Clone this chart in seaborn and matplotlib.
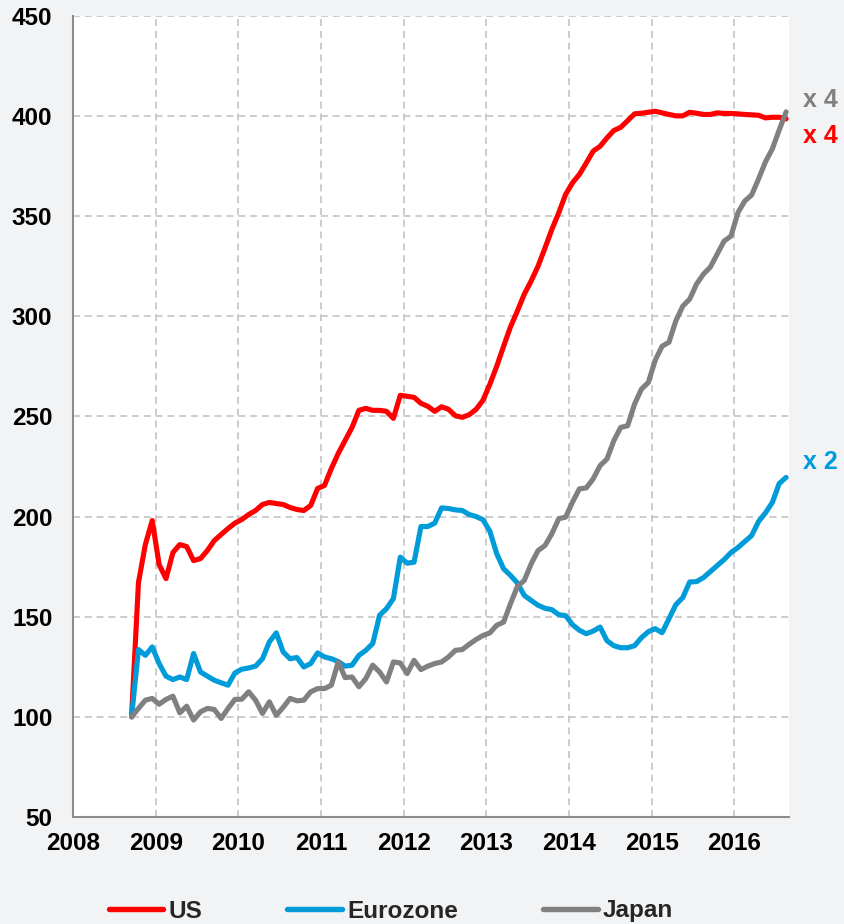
import numpy as np
import pandas as pd
import matplotlib
matplotlib.use("Agg")
import matplotlib.pyplot as plt
from matplotlib.lines import Line2D
import seaborn as sns

# ---------------- data (monthly, Sep 2008 .. Aug 2016, index 100 = Sep 2008) ----------------
start_month = "2008-09-01"
n_months = 96

us = [100, 167, 186, 198,
      176, 169, 182, 186, 185, 178, 179, 183, 188, 191, 194, 196.7,
      198.5, 201, 203, 206, 207, 206.5, 206, 204.5, 203.5, 203, 205.5, 214,
      215.5, 224, 231.5, 238, 244.5, 253, 254, 253, 253, 252.5, 249, 260.5,
      260, 259.5, 256.5, 255, 252.5, 254.8, 253.5, 250.3, 249.5, 250.8, 253.5, 258,
      266, 275, 285, 294.7, 302.6, 311, 317.6, 325, 334, 343.3, 351.6, 360.8,
      366.6, 370.8, 376.5, 382.4, 384.8, 389, 392.7, 394.3, 397.6, 401, 401.3, 401.8,
      402.3, 401.5, 400.7, 400, 400, 401.8, 401.3, 400.7, 400.7, 401.5, 401.2, 401.2,
      401, 400.7, 400.5, 400.3, 399, 399.3, 399.3, 398.5]

eurozone = [100, 133.6, 130.7, 134.9,
            126.6, 120.3, 118.6, 119.9, 118.6, 131.6, 122.4, 120.3, 118.3, 117, 115.8, 121.9,
            123.8, 124.4, 125.3, 129, 137.4, 141.9, 132.4, 129, 129.6, 124.9, 126.6, 131.9,
            129.9, 129, 127.6, 125.3, 125.8, 130.7, 133.2, 136.6, 150.7, 154, 159, 179.7,
            176.7, 177.2, 195, 195, 196.7, 204.3, 204, 203.3, 203, 201, 200, 198.4,
            192.7, 181.4, 173.9, 170.6, 166.8, 160.6, 158.1, 155.7, 154.2, 153.5, 151, 150.5,
            146, 143.2, 141.5, 142.8, 144.8, 138, 135.5, 134.5, 134.5, 135.5, 139.5, 142.5,
            144, 142, 149, 156, 159.5, 167.3, 167.5, 169.5, 172.5, 175.5, 178.5, 182,
            184.5, 187.5, 190.5, 197.5, 201.8, 207, 216.5, 219.5]

japan = [100, 104.2, 108.3, 109.2,
         106.3, 108.7, 110.3, 102, 105.3, 98.4, 102.5, 104.2, 103.7, 99.2, 104.2, 108.7,
         108.8, 112.5, 108.3, 101.7, 107.5, 100.8, 104.7, 109.2, 108, 108.3, 112.5, 114.1,
         114.1, 115.8, 127.4, 119.6, 119.9, 115, 119.1, 125.8, 122.4, 117.4, 127.4, 126.9,
         121.6, 128.2, 123.6, 125.3, 126.6, 127.4, 129.9, 133.2, 133.6, 136.2, 138.6, 140.6,
         141.9, 145.7, 147.3, 156.5, 165.1, 168.1, 176.4, 183, 185.5, 191.4, 198.9, 199.7,
         207.2, 213.8, 214.3, 218.8, 225.4, 228.7, 237.9, 244.5, 245.3, 256.1, 263.6, 266.9,
         278, 285, 287, 297.7, 305, 308.5, 316, 321, 324.5, 331, 337.5, 340,
         351.6, 357.5, 360.5, 368.5, 377, 383.5, 393, 402]

series_names = ["US", "Eurozone", "Japan"]
series_colors = ["#FF0000", "#009BD9", "#808080"]
y_ticks = [50, 100, 150, 200, 250, 300, 350, 400, 450]
x_ticks = [2008, 2009, 2010, 2011, 2012, 2013, 2014, 2015, 2016]
end_labels = ["x 4", "x 4", "x 2"]   # Japan, US, Eurozone multiples

# ---------------- build long table ----------------
dates = pd.date_range(start_month, periods=n_months, freq="MS")
xdec = dates.year + (dates.month - 0.5) / 12.0
frames = []
for name, vals in zip(series_names, [us, eurozone, japan]):
    frames.append(pd.DataFrame({"x": xdec, "value": vals, "series": name}))
df = pd.concat(frames, ignore_index=True)

# ---------------- style ----------------
sns.set_style("white")
plt.rcParams["font.family"] = ["Liberation Sans", "DejaVu Sans"]
plt.rcParams["font.weight"] = "bold"
plt.rcParams["lines.scale_dashes"] = False

bg = "#F2F3F5"
fig = plt.figure(figsize=(8.44, 9.24), dpi=100, facecolor=bg)
ax = fig.add_axes([73 / 844, 1 - 817 / 924, (789 - 73) / 844, (817 - 15.7) / 924])
ax.set_facecolor("white")

sns.lineplot(data=df, x="x", y="value", hue="series", hue_order=series_names,
             palette=dict(zip(series_names, series_colors)), linewidth=3.7,
             estimator=None, legend=False, ax=ax, solid_joinstyle="round", zorder=3)

ax.set_xlim(2008, 2016.66)
ax.set_ylim(50, 450)
ax.set_xticks(x_ticks)
ax.set_yticks(y_ticks)
ax.set_xticklabels([str(t) for t in x_ticks], fontsize=17.5, fontweight="bold")
ax.set_yticklabels([str(t) for t in y_ticks], fontsize=17.5, fontweight="bold")
ax.set_xlabel("")
ax.set_ylabel("")

ax.grid(True, which="major", axis="both", color="#BFBFBF", linewidth=1.1,
        linestyle=(0, (5, 3.5)), zorder=0)
for s in ["top", "right"]:
    ax.spines[s].set_visible(False)
for s in ["left", "bottom"]:
    ax.spines[s].set_color("#8C8C8C")
    ax.spines[s].set_linewidth(1.5)
    ax.spines[s].set_zorder(2)
ax.tick_params(axis="both", which="major", length=4.8, width=1.2, color="#8C8C8C",
               labelcolor="black", direction="out")
ax.tick_params(axis="x", pad=6.3)
ax.tick_params(axis="y", pad=10)

# end-of-line multiples
label_colors = ["#808080", "#FF0000", "#009BD9"]
label_y = [100, 136, 462]
for txt, col, yp in zip(end_labels, label_colors, label_y):
    fig.text(803 / 844, 1 - yp / 924, txt, color=col, fontsize=18, fontweight="bold",
             ha="left", va="center")

# legend
handles = [Line2D([0], [0], color=c, lw=3.9, solid_capstyle="round") for c in series_colors]
fig.legend(handles, series_names, loc="center", bbox_to_anchor=(0.463, 1 - 911 / 924),
           ncol=3, frameon=False, handlelength=2.26, handletextpad=0.2,
           columnspacing=3.5, prop={"size": 17.5, "weight": "bold"})

fig.savefig("out.png", dpi=100, facecolor=bg)
